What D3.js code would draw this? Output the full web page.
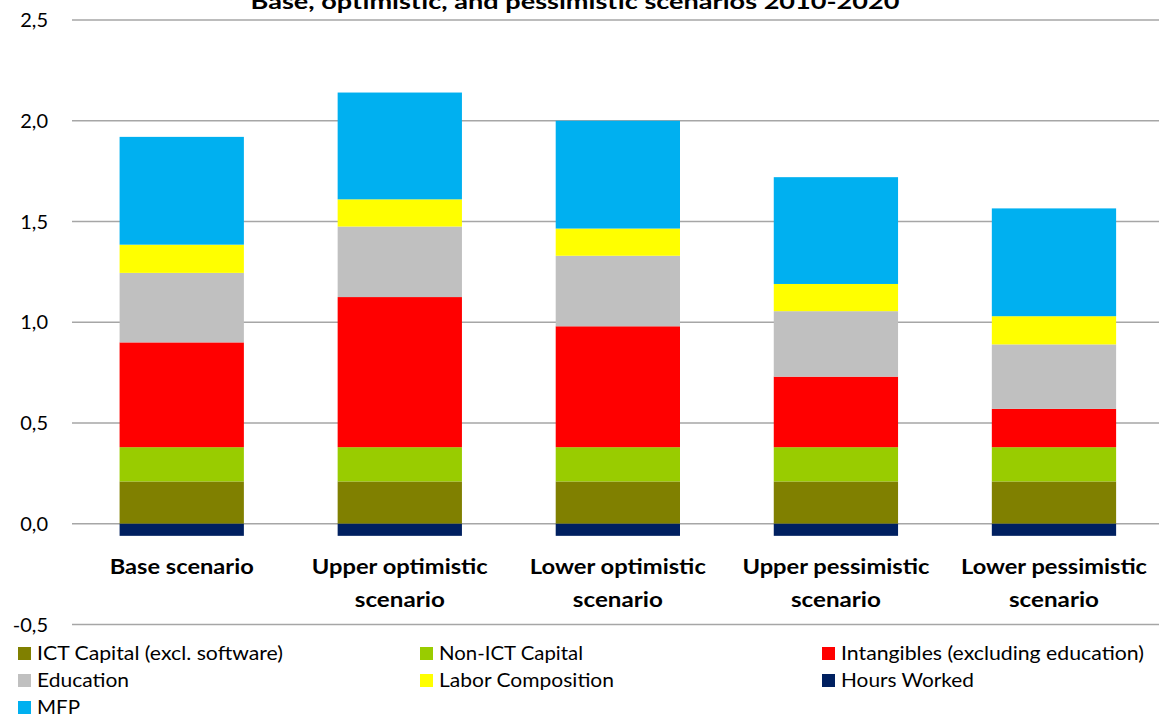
<!DOCTYPE html>
<html><head><meta charset="utf-8">
<script src="https://cdn.jsdelivr.net/npm/d3@7"></script>
<style>body{margin:0;background:#fff}svg{display:block}text{font-family:Lato,"Open Sans",sans-serif}</style>
</head><body>
<svg id="c" width="1159" height="717"></svg>
<script>
const categories = ["Base scenario","Upper optimistic scenario","Lower optimistic scenario","Upper pessimistic scenario","Lower pessimistic scenario"];
const categoryLines = [["Base scenario"],["Upper optimistic","scenario"],["Lower optimistic","scenario"],["Upper pessimistic","scenario"],["Lower pessimistic","scenario"]];
const seriesNames = ["ICT Capital (excl. software)","Non-ICT Capital","Intangibles (excluding education)","Education","Labor Composition","Hours Worked","MFP"];
const ictCapital   = [0.21, 0.21, 0.21, 0.21, 0.21];
const nonIctCapital= [0.17, 0.17, 0.17, 0.17, 0.17];
const intangibles  = [0.52, 0.745, 0.60, 0.35, 0.19];
const education    = [0.345, 0.35, 0.35, 0.325, 0.32];
const laborComp    = [0.14, 0.135, 0.135, 0.135, 0.14];
const hoursWorked  = [-0.06, -0.06, -0.06, -0.06, -0.06];
const mfp          = [0.535, 0.53, 0.535, 0.53, 0.535];
const yTicks = [-0.5, 0, 0.5, 1.0, 1.5, 2.0, 2.5];
const colors = ["#808000","#99cc00","#ff0000","#c0c0c0","#ffff00","#002060","#00b0f0"];
const title = "Base, optimistic, and pessimistic scenarios 2010-2020";

const seriesValues = [ictCapital, nonIctCapital, intangibles, education, laborComp, hoursWorked, mfp];
const rows = categories.map((c,i)=>{const o={cat:c}; seriesNames.forEach((s,j)=>o[s]=seriesValues[j][i]); return o;});

const svg = d3.select("#c");
const x = d3.scaleBand().domain(categories).range([72.7,1163]).paddingInner(0.43).paddingOuter(0.215);
const y = d3.scaleLinear().domain([-0.5,2.5]).range([624.5,20]);

// gridlines
svg.append("g").selectAll("line").data(yTicks).join("line")
  .attr("x1",72).attr("x2",1159).attr("y1",d=>y(d)).attr("y2",d=>y(d))
  .attr("stroke","#a6a6a6").attr("stroke-width",1.5);

// y labels
const fmt = d=>d3.format(".1f")(d).replace(".",",").replace("\u2212","-");
svg.append("g").selectAll("text").data(yTicks).join("text")
  .attr("x",48).attr("y",d=>y(d)).attr("dy","0.35em").attr("text-anchor","end")
  .attr("font-size",20).attr("fill","#000").text(fmt);

// stacks
const stack = d3.stack().keys(seriesNames).offset(d3.stackOffsetDiverging);
const stacked = stack(rows);
svg.append("g").selectAll("g").data(stacked).join("g")
  .attr("fill",(d,i)=>colors[i])
  .selectAll("rect").data(d=>d).join("rect")
  .attr("x",d=>x(d.data.cat)).attr("width",x.bandwidth())
  .attr("y",d=>y(Math.max(d[0],d[1]))).attr("height",d=>Math.abs(y(d[0])-y(d[1])));

// category labels
const lineW = {"Base scenario":144,"Upper optimistic":176,"Lower optimistic":176,"Upper pessimistic":187,"Lower pessimistic":186,"scenario":90};
const cl = svg.append("g").selectAll("text").data(categories).join("text")
  .attr("text-anchor","middle").attr("font-size",20).attr("font-weight","bold").attr("fill","#000")
  .attr("x",d=>x(d)+x.bandwidth()/2).attr("y",574);
cl.each(function(d,i){
  const t=d3.select(this);
  categoryLines[i].forEach((ln,k)=>t.append("tspan").attr("x",x(d)+x.bandwidth()/2).attr("dy",k?33:0)
    .attr("textLength",lineW[ln]).attr("lengthAdjust","spacingAndGlyphs").text(ln));
});

// title
svg.append("text").attr("x",575).attr("y",9).attr("text-anchor","middle")
  .attr("font-size",20).attr("font-weight","bold").attr("textLength",649).attr("lengthAdjust","spacingAndGlyphs").text(title);

// legend
const legPos = [[16,653],[418,653],[820,653],[16,680],[418,680],[820,680],[16,707]];
const legW = [246,144,303,92,175,133,43];
const lg = svg.append("g").selectAll("g").data(seriesNames).join("g")
  .attr("transform",(d,i)=>`translate(${legPos[i][0]},${legPos[i][1]})`);
lg.append("rect").attr("x",2).attr("y",-6).attr("width",13).attr("height",13).attr("fill",(d,i)=>colors[i]);
lg.append("text").attr("x",21).attr("y",0).attr("dy","0.35em").attr("font-size",19).attr("fill","#000")
  .attr("textLength",(d,i)=>legW[i]).attr("lengthAdjust","spacingAndGlyphs").text(d=>d);
</script>
</body></html>
